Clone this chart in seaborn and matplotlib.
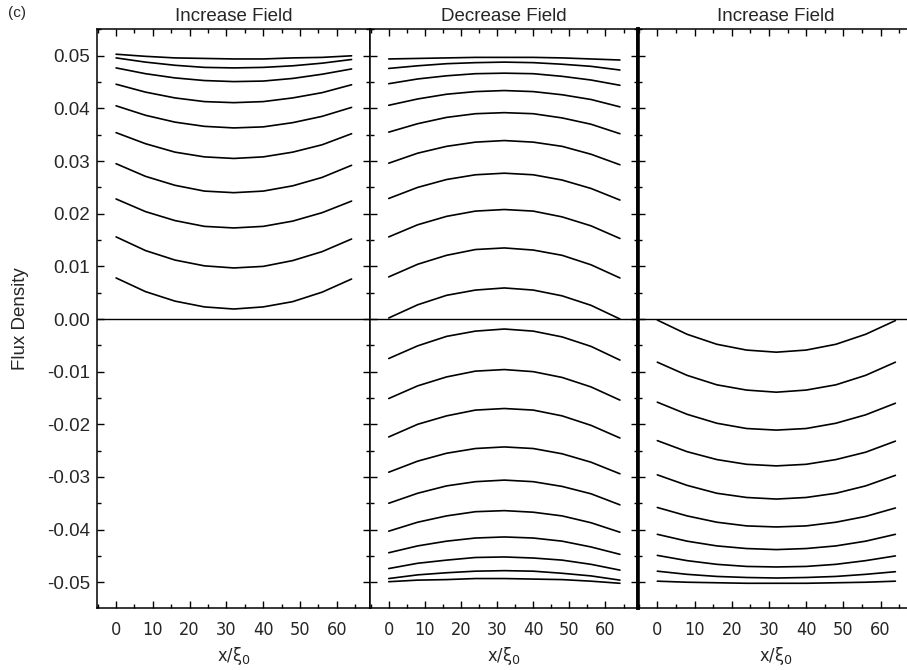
import pandas as pd
import seaborn as sns
import matplotlib
matplotlib.use("Agg")
import matplotlib.pyplot as plt
from matplotlib.ticker import MultipleLocator, FormatStrFormatter
from matplotlib import font_manager

# ------------------ data ------------------
x_pos = [0, 8, 16, 24, 32, 40, 48, 56, 64]

# panel 1: increase field (flux profiles above zero)
inc_upper = [
    [0.0503, 0.0499, 0.0496, 0.0495, 0.0494, 0.0494, 0.0496, 0.0497, 0.0500],
    [0.0496, 0.0488, 0.0482, 0.0478, 0.0477, 0.0478, 0.0481, 0.0486, 0.0493],
    [0.0477, 0.0466, 0.0458, 0.0453, 0.0451, 0.0452, 0.0457, 0.0465, 0.0475],
    [0.0446, 0.0431, 0.0420, 0.0413, 0.0411, 0.0413, 0.0420, 0.0430, 0.0445],
    [0.0405, 0.0387, 0.0374, 0.0366, 0.0363, 0.0365, 0.0373, 0.0385, 0.0402],
    [0.0354, 0.0333, 0.0317, 0.0308, 0.0305, 0.0308, 0.0317, 0.0331, 0.0352],
    [0.0295, 0.0271, 0.0254, 0.0243, 0.0240, 0.0243, 0.0253, 0.0269, 0.0292],
    [0.0228, 0.0204, 0.0187, 0.0176, 0.0173, 0.0176, 0.0186, 0.0202, 0.0224],
    [0.0156, 0.0130, 0.0112, 0.0101, 0.0097, 0.0100, 0.0111, 0.0128, 0.0152],
    [0.0078, 0.0052, 0.0034, 0.0023, 0.0019, 0.0023, 0.0033, 0.0051, 0.0076],
]

# panel 2: decrease field, above and below zero
dec_upper = [
    [0.0494, 0.0495, 0.0496, 0.0497, 0.0497, 0.0497, 0.0496, 0.0494, 0.0492],
    [0.0476, 0.0481, 0.0485, 0.0487, 0.0488, 0.0487, 0.0484, 0.0480, 0.0473],
    [0.0447, 0.0456, 0.0462, 0.0466, 0.0467, 0.0466, 0.0461, 0.0454, 0.0444],
    [0.0406, 0.0418, 0.0427, 0.0432, 0.0434, 0.0432, 0.0426, 0.0417, 0.0403],
    [0.0355, 0.0371, 0.0383, 0.0390, 0.0392, 0.0390, 0.0382, 0.0370, 0.0352],
    [0.0296, 0.0315, 0.0328, 0.0336, 0.0339, 0.0336, 0.0328, 0.0313, 0.0293],
    [0.0229, 0.0250, 0.0265, 0.0274, 0.0277, 0.0274, 0.0264, 0.0248, 0.0226],
    [0.0156, 0.0179, 0.0195, 0.0205, 0.0208, 0.0205, 0.0194, 0.0177, 0.0153],
    [0.0080, 0.0104, 0.0121, 0.0132, 0.0135, 0.0131, 0.0121, 0.0103, 0.0078],
    [0.0002, 0.0027, 0.0045, 0.0055, 0.0059, 0.0055, 0.0044, 0.0026, 0.0000],
]
dec_lower = [
    [-0.0075, -0.0051, -0.0033, -0.0023, -0.0019, -0.0023, -0.0034, -0.0052, -0.0078],
    [-0.0151, -0.0127, -0.0110, -0.0099, -0.0096, -0.0100, -0.0111, -0.0129, -0.0154],
    [-0.0224, -0.0200, -0.0184, -0.0173, -0.0170, -0.0173, -0.0184, -0.0202, -0.0226],
    [-0.0291, -0.0270, -0.0255, -0.0246, -0.0243, -0.0246, -0.0256, -0.0272, -0.0294],
    [-0.0350, -0.0331, -0.0317, -0.0309, -0.0306, -0.0309, -0.0318, -0.0332, -0.0353],
    [-0.0403, -0.0386, -0.0374, -0.0366, -0.0364, -0.0367, -0.0374, -0.0387, -0.0405],
    [-0.0444, -0.0431, -0.0422, -0.0416, -0.0414, -0.0416, -0.0422, -0.0433, -0.0447],
    [-0.0474, -0.0464, -0.0458, -0.0453, -0.0452, -0.0454, -0.0458, -0.0466, -0.0477],
    [-0.0493, -0.0486, -0.0482, -0.0479, -0.0478, -0.0479, -0.0483, -0.0488, -0.0496],
    [-0.0499, -0.0496, -0.0495, -0.0493, -0.0493, -0.0494, -0.0495, -0.0498, -0.0502],
]

# panel 3: increase field again (profiles below zero)
inc_lower = [
    [-0.0002, -0.0029, -0.0048, -0.0059, -0.0063, -0.0059, -0.0048, -0.0029, -0.0003],
    [-0.0082, -0.0107, -0.0125, -0.0135, -0.0139, -0.0135, -0.0125, -0.0107, -0.0082],
    [-0.0158, -0.0181, -0.0198, -0.0208, -0.0211, -0.0208, -0.0198, -0.0182, -0.0160],
    [-0.0231, -0.0252, -0.0267, -0.0276, -0.0279, -0.0276, -0.0267, -0.0253, -0.0232],
    [-0.0296, -0.0316, -0.0331, -0.0339, -0.0342, -0.0339, -0.0331, -0.0317, -0.0297],
    [-0.0358, -0.0374, -0.0386, -0.0393, -0.0395, -0.0393, -0.0386, -0.0375, -0.0359],
    [-0.0409, -0.0422, -0.0431, -0.0436, -0.0438, -0.0436, -0.0431, -0.0422, -0.0409],
    [-0.0449, -0.0459, -0.0466, -0.0470, -0.0471, -0.0470, -0.0466, -0.0459, -0.0450],
    [-0.0479, -0.0485, -0.0489, -0.0491, -0.0492, -0.0491, -0.0489, -0.0485, -0.0480],
    [-0.0498, -0.0500, -0.0501, -0.0502, -0.0502, -0.0502, -0.0501, -0.0500, -0.0498],
]

titles = ["Increase Field", "Decrease Field", "Increase Field"]
x_ticks = [0, 10, 20, 30, 40, 50, 60]
y_ticks = [-0.05, -0.04, -0.03, -0.02, -0.01, 0.00, 0.01, 0.02, 0.03, 0.04, 0.05]


def to_long(curves, panel, tag):
    rows = []
    for i, c in enumerate(curves):
        for xv, yv in zip(x_pos, c):
            rows.append({"panel": panel, "curve": f"{tag}_{i}", "x": xv, "flux": yv})
    return rows


def main():
    sns.set_theme(style="ticks")
    fonts = font_manager.fontManager.ttflist
    names = {f.name for f in fonts}
    base = "Liberation Sans" if "Liberation Sans" in names else "DejaVu Sans"
    # condensed face for the x tick labels, if one is installed
    narrow, stretch = base, "normal"
    if "Liberation Sans Narrow" in names:
        narrow = "Liberation Sans Narrow"
    elif any(f.name == "DejaVu Sans" and f.stretch == "condensed" for f in fonts):
        narrow, stretch = "DejaVu Sans", "condensed"
    plt.rcParams["font.family"] = [base, "DejaVu Sans"]
    plt.rcParams["axes.unicode_minus"] = False

    rows = (to_long(inc_upper, 0, "iu") + to_long(dec_upper, 1, "du")
            + to_long(dec_lower, 1, "dl") + to_long(inc_lower, 2, "il"))
    df = pd.DataFrame(rows)

    fig = plt.figure(figsize=(9.07, 6.70), dpi=100)
    # panel boxes in figure fractions
    boxes = [
        [0.1069, 0.0925, 0.3010, 0.8635],
        [0.4079, 0.0925, 0.2955, 0.8635],
        [0.7034, 0.0925, 0.3043, 0.8635],
    ]

    for p, box in enumerate(boxes):
        ax = fig.add_axes(box)
        sub = df[df["panel"] == p]
        sns.lineplot(data=sub, x="x", y="flux", units="curve", estimator=None,
                     color="black", lw=1.2, ax=ax, legend=False,
                     solid_joinstyle="round")
        ax.axhline(0, color="black", lw=1.0, zorder=1)

        ax.set_xlim(-5.2, 69.0)
        ax.set_ylim(-0.0549, 0.0550)
        ax.set_xticks(x_ticks)
        ax.xaxis.set_minor_locator(MultipleLocator(5))
        ax.set_yticks(y_ticks)
        ax.yaxis.set_minor_locator(MultipleLocator(0.005))
        ax.yaxis.set_major_formatter(FormatStrFormatter("%.2f"))

        ax.tick_params(which="both", direction="in", top=True, right=True,
                       bottom=True, left=True, color="black", width=1.0)
        ax.tick_params(which="major", length=5)
        ax.tick_params(which="minor", length=3)
        ax.tick_params(axis="x", which="major", pad=9, labelsize=13)
        ax.tick_params(axis="y", which="major", pad=5, labelsize=13.5)
        for lab in ax.get_xticklabels():
            lab.set_fontfamily(narrow)
            lab.set_fontstretch(stretch)

        if p > 0:
            ax.tick_params(axis="y", labelleft=False)
            ax.set_ylabel("")
        else:
            ax.set_ylabel("Flux Density", fontsize=13.5, labelpad=13)

        for s in ax.spines.values():
            s.set_linewidth(1.1)
            s.set_color("black")
        if p == 1:
            ax.spines["right"].set_linewidth(2.6)
        if p == 2:
            ax.spines["left"].set_linewidth(2.6)

        ax.set_xlabel("x/\u03be$_0$", fontsize=13, labelpad=5,
                      fontfamily=narrow, fontstretch=stretch)
        ax.set_title(titles[p], fontsize=13.5, pad=6)

    fig.text(0.009, 0.980, "(c)", fontsize=11, ha="left", va="center")
    fig.savefig("out.png", dpi=100)


if __name__ == "__main__":
    main()
